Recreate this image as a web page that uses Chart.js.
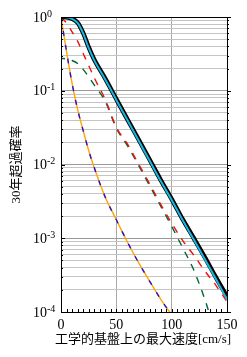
<!DOCTYPE html>
<html>
<head>
<meta charset="utf-8">
<script src="https://cdn.jsdelivr.net/npm/chart.js@4/dist/chart.umd.min.js"></script>
<style>
  html, body { margin: 0; padding: 0; background: #fff; }
  #wrap { width: 247px; height: 357px; }
</style>
</head>
<body>
<div id="wrap"><canvas id="myChart" width="247" height="357"></canvas></div>
<script>
// velocity on engineering bedrock [cm/s]
const speeds = [0, 5, 10, 15, 20, 25, 30, 40, 50, 60, 70, 80, 90, 100, 110, 120, 130, 140, 150];

// 30-year exceedance probabilities
const totalProb = [1.0, 0.995, 0.95, 0.84, 0.61, 0.39, 0.265, 0.146, 0.077, 0.041, 0.022, 0.0117, 0.0062, 0.0034, 0.0018, 0.0010, 0.00055, 0.000295, 0.000162];
const cyanProb  = [1.0, 0.995, 0.945, 0.83, 0.60, 0.38, 0.26, 0.142, 0.075, 0.040, 0.0213, 0.0113, 0.0060, 0.0033, 0.00175, 0.00096, 0.00052, 0.00028, 0.000148];
const redProb   = [0.98, 0.83, 0.63, 0.47, 0.32, 0.22, 0.15, 0.076, 0.032, 0.019, 0.0102, 0.0055, 0.0029, 0.0016, 0.00093, 0.00059, 0.00036, 0.00023, 0.000138];
const greenProb = [0.275, 0.27, 0.257, 0.234, 0.195, 0.155, 0.12, 0.072, 0.031, 0.018, 0.0098, 0.0052, 0.00275, 0.00145, 0.00074, 0.00037, 0.000148, 0.00005, 0.00002];
const orangeProb = [1.0, 0.34, 0.126, 0.056, 0.029, 0.0155, 0.0091, 0.0036, 0.00178, 0.00089, 0.00047, 0.000263, 0.00015, 0.000091, 0.000055, null, null, null, null];
const blueProb   = [1.0, 0.34, 0.126, 0.056, 0.029, 0.0155, 0.0091, 0.0036, 0.00178, 0.00089, 0.00047, 0.000263, 0.00015, 0.000091, 0.000055, null, null, null, null];

const xTicks = [0, 50, 100, 150];
const decades = [1e-4, 1e-3, 1e-2, 1e-1, 1];
const decadeLabels = ["-4", "-3", "-2", "-1", "0"];

const xTitle = "工学的基盤上の最大速度[cm/s]";
const yTitle = "30年超過確率";

const FONT = '"Liberation Serif", "Noto Sans CJK JP", serif';

function pts(arr){
    return speeds.map((v, i) => ({ x: v, y: arr[i] }));
}

// all 1..9 x 10^n ticks for the log grid
let yTickVals = [];
decades.forEach(d => {
    if (d >= 1) { yTickVals.push(1); return; }
    for (let m = 1; m < 10; m++) yTickVals.push(+(m * d).toPrecision(3));
});

function isDecade(v){
    return decades.some(d => Math.abs(v - d) / d < 1e-6);
}

const extras = {
    id: "extras",
    afterDraw(chart){
        const ctx = chart.ctx;
        const a = chart.chartArea;
        const xs = chart.scales.x, ys = chart.scales.y;
        ctx.save();

        // small inward ticks on the bottom edge every 5 cm/s
        ctx.strokeStyle = "#000";
        ctx.lineWidth = 1;
        for (let v = 0; v <= 150; v += 5) {
            const px = Math.round(xs.getPixelForValue(v)) + 0.5;
            ctx.beginPath();
            ctx.moveTo(px, a.bottom);
            ctx.lineTo(px, a.bottom - 3);
            ctx.stroke();
        }
        // ticks on the left and right edges
        yTickVals.forEach(v => {
            const py = Math.round(ys.getPixelForValue(v)) + 0.5;
            const len = isDecade(v) ? 4 : 2;
            ctx.beginPath();
            ctx.moveTo(a.right, py);
            ctx.lineTo(a.right + len, py);
            ctx.stroke();
            ctx.beginPath();
            ctx.moveTo(a.left, py);
            ctx.lineTo(a.left + len, py);
            ctx.stroke();
        });

        // frame
        ctx.strokeStyle = "#000";
        ctx.lineWidth = 1;
        ctx.strokeRect(Math.round(a.left) + 0.5, Math.round(a.top) + 0.5,
                       Math.round(a.right - a.left), Math.round(a.bottom - a.top));

        // y tick labels 10^n
        ctx.fillStyle = "#000";
        ctx.textBaseline = "middle";
        ctx.textAlign = "left";
        decades.forEach((d, i) => {
            const py = ys.getPixelForValue(d);
            ctx.font = "14px " + FONT;
            ctx.fillText("10", 33, py + 1);
            const w = ctx.measureText("10").width;
            ctx.font = "10px " + FONT;
            ctx.fillText(decadeLabels[i], 33 + w, py - 3);
        });

        // x title
        ctx.font = "13px " + FONT;
        ctx.textAlign = "center";
        ctx.fillText(xTitle, (a.left + a.right) / 2 - 1, 340);

        // y title
        ctx.translate(17, (a.top + a.bottom) / 2);
        ctx.rotate(-Math.PI / 2);
        ctx.fillText(yTitle, 0, 0);
        ctx.restore();
    }
};

const ctx = document.getElementById("myChart").getContext("2d");

const myChart = new Chart(ctx, {
    type: "line",
    data: {
        datasets: [
            { label: "total", data: pts(totalProb), borderColor: "#000", borderWidth: 4.5, order: 2 },
            { label: "cyan", data: pts(cyanProb), borderColor: "#1ab6e0", borderWidth: 2, order: 1 },
            { label: "red", data: pts(redProb), borderColor: "#ee1111", borderWidth: 1.4, borderDash: [7, 7], order: 3 },
            { label: "green", data: pts(greenProb), borderColor: "#006633", borderWidth: 1.4, borderDash: [7, 7], borderDashOffset: 3, order: 4 },
            { label: "blue", data: pts(blueProb), borderColor: "#2211dd", borderWidth: 1.4, borderDash: [5, 9], order: 5 },
            { label: "orange", data: pts(orangeProb), borderColor: "#ffa500", borderWidth: 1.4, order: 6 }
        ]
    },
    options: {
        responsive: false,
        animation: false,
        events: [],
        layout: { padding: { top: 17, right: 20, left: 0, bottom: 0 } },
        elements: {
            point: { radius: 0 },
            line: { cubicInterpolationMode: "monotone", fill: false }
        },
        plugins: {
            legend: { display: false },
            tooltip: { enabled: false }
        },
        scales: {
            x: {
                type: "linear",
                min: 0,
                max: 150,
                afterBuildTicks: s => { s.ticks = xTicks.map(v => ({ value: v })); },
                afterFit: s => { s.height = 45; },
                border: { display: false },
                grid: { color: "#a8a8a8", drawTicks: false },
                ticks: {
                    padding: 5,
                    color: "#000",
                    font: { family: FONT, size: 14 }
                }
            },
            y: {
                type: "logarithmic",
                min: 1e-4,
                max: 1,
                afterBuildTicks: s => { s.ticks = yTickVals.map(v => ({ value: v })); },
                afterFit: s => { s.width = 61; },
                border: { display: false },
                grid: {
                    drawTicks: false,
                    color: c => isDecade(c.tick.value) ? "#999" : "#c4c4c4"
                },
                ticks: { display: false, autoSkip: false }
            }
        }
    },
    plugins: [extras]
});
</script>
</body>
</html>
